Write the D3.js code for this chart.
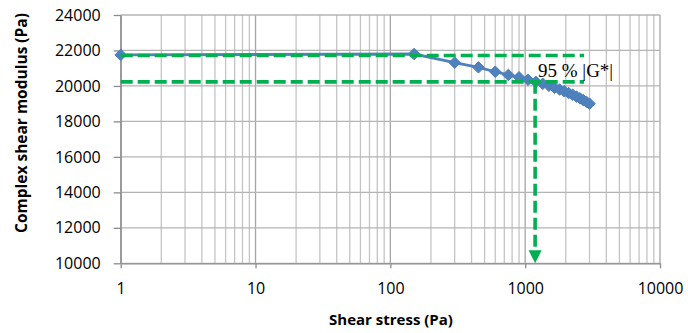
<!DOCTYPE html>
<html>
<head>
<meta charset="utf-8">
<script src="https://cdn.jsdelivr.net/npm/d3@7"></script>
<style>
  html, body { margin: 0; padding: 0; background: #fff; }
  svg { display: block; }
</style>
</head>
<body>
<svg id="chart" width="688" height="333"></svg>
<script>
// Amplitude sweep: complex shear modulus |G*| against shear stress
const shearStress = [1, 150, 300, 450, 600, 750, 900, 1050, 1200, 1350, 1500,
  1650, 1800, 1950, 2100, 2250, 2400, 2550, 2700, 2850, 3000];
const complexModulus = [21750, 21800, 21310, 21050, 20800, 20620, 20490, 20350,
  20230, 20120, 20010, 19900, 19800, 19700, 19600, 19500, 19400, 19300, 19200,
  19100, 19000];

// Reference levels: plateau |G*| and the 95 % level, plus the stress where it is reached
const plateauLevel = 21720;
const reducedLevel = 20230;
const levelEndStress = 2735;
const criticalStress = 1185;
const annotation = "95 % |G*|";

const xTickValues = [1, 10, 100, 1000, 10000];
const yTickValues = [10000, 12000, 14000, 16000, 18000, 20000, 22000, 24000];
const xTitle = "Shear stress (Pa)";
const yTitle = "Complex shear modulus (Pa)";

const svg = d3.select("#chart");
const plotLeft = 120.7, plotRight = 660, plotTop = 15, plotBottom = 263.3;

const x = d3.scaleLog().domain([1, 10000]).range([plotLeft, plotRight]);
const y = d3.scaleLinear().domain([10000, 24000]).range([plotBottom, plotTop]);

// Vertical grid: every 1..9 within each decade
const minorX = [];
for (let d = 1; d < 10000; d *= 10) {
  for (let k = 1; k <= 9; k++) minorX.push(d * k);
}
minorX.push(10000);

const grid = svg.append("g");
grid.selectAll("line.vx").data(minorX).join("line")
  .attr("x1", d => x(d)).attr("x2", d => x(d))
  .attr("y1", plotTop).attr("y2", plotBottom)
  .attr("stroke", d => xTickValues.includes(d) ? "#a6a6a6" : "#c4c4c4")
  .attr("stroke-width", 1.3);
grid.selectAll("line.hy").data(yTickValues).join("line")
  .attr("x1", plotLeft).attr("x2", plotRight)
  .attr("y1", d => y(d)).attr("y2", d => y(d))
  .attr("stroke", "#b4b4b4")
  .attr("stroke-width", 1.3);

const font = "'Open Sans', Lato, sans-serif";

// Axes
const xAxis = d3.axisBottom(x).tickValues(xTickValues).tickFormat(d3.format("d"))
  .tickSizeInner(5).tickSizeOuter(0).tickPadding(14);
const gx = svg.append("g").attr("transform", `translate(0,${plotBottom})`).call(xAxis);
const yAxis = d3.axisLeft(y).tickValues(yTickValues).tickFormat(d3.format("d"))
  .tickSizeInner(7).tickSizeOuter(0).tickPadding(13);
const gy = svg.append("g").attr("transform", `translate(${plotLeft},0)`).call(yAxis);

[gx, gy].forEach(g => {
  g.select(".domain").attr("stroke", "#8c8c8c").attr("stroke-width", 1.3);
  g.selectAll(".tick line").attr("stroke", "#8c8c8c").attr("stroke-width", 1.3);
  g.selectAll(".tick text").attr("fill", "#000")
    .style("font-family", font).style("font-size", "16px");
});
gx.selectAll(".tick text").attr("dy", "0.71em");

// Axis titles
svg.append("text")
  .attr("x", 391).attr("y", 325)
  .attr("text-anchor", "middle")
  .style("font-family", font).style("font-size", "15px").style("font-weight", "bold")
  .text(xTitle);
svg.append("text")
  .attr("transform", "translate(27,123) rotate(-90)")
  .attr("text-anchor", "middle")
  .style("font-family", font).style("font-size", "15.5px").style("font-weight", "bold")
  .text(yTitle);

// Data series
const pts = shearStress.map((s, i) => [s, complexModulus[i]]);
svg.append("path")
  .datum(pts)
  .attr("fill", "none")
  .attr("stroke", "#4f81bd")
  .attr("stroke-width", 2.8)
  .attr("d", d3.line().x(d => x(d[0])).y(d => y(d[1])));

const diamond = d3.symbol().type(d3.symbolDiamond2).size(85);
svg.selectAll("path.marker").data(pts).join("path")
  .attr("class", "marker")
  .attr("transform", d => `translate(${x(d[0])},${y(d[1])})`)
  .attr("d", diamond)
  .attr("fill", "#4f81bd")
  .attr("stroke", "#4a7ebb")
  .attr("stroke-width", 1);

// Reference levels drawn as dashed green lines
const green = "#00b050";
const dash = "12,5";
svg.selectAll("line.level").data([plateauLevel, reducedLevel]).join("line")
  .attr("x1", x(1)).attr("x2", x(levelEndStress))
  .attr("y1", d => y(d)).attr("y2", d => y(d))
  .attr("stroke", green).attr("stroke-width", 3.6)
  .attr("stroke-dasharray", dash);

// Drop line to the critical stress with an arrowhead on the axis
const xc = x(criticalStress);
svg.append("line")
  .attr("x1", xc).attr("x2", xc)
  .attr("y1", y(reducedLevel)).attr("y2", plotBottom - 12)
  .attr("stroke", green).attr("stroke-width", 3.6)
  .attr("stroke-dasharray", dash);
svg.append("path")
  .attr("d", `M${xc - 6.5},${plotBottom - 13} L${xc + 6.5},${plotBottom - 13} L${xc},${plotBottom} Z`)
  .attr("fill", green);

svg.append("text")
  .attr("x", 538).attr("y", 76.5)
  .style("font-family", "'Liberation Serif', 'Times New Roman', serif")
  .style("font-size", "19px")
  .attr("fill", "#000")
  .text(annotation);
</script>
</body>
</html>
